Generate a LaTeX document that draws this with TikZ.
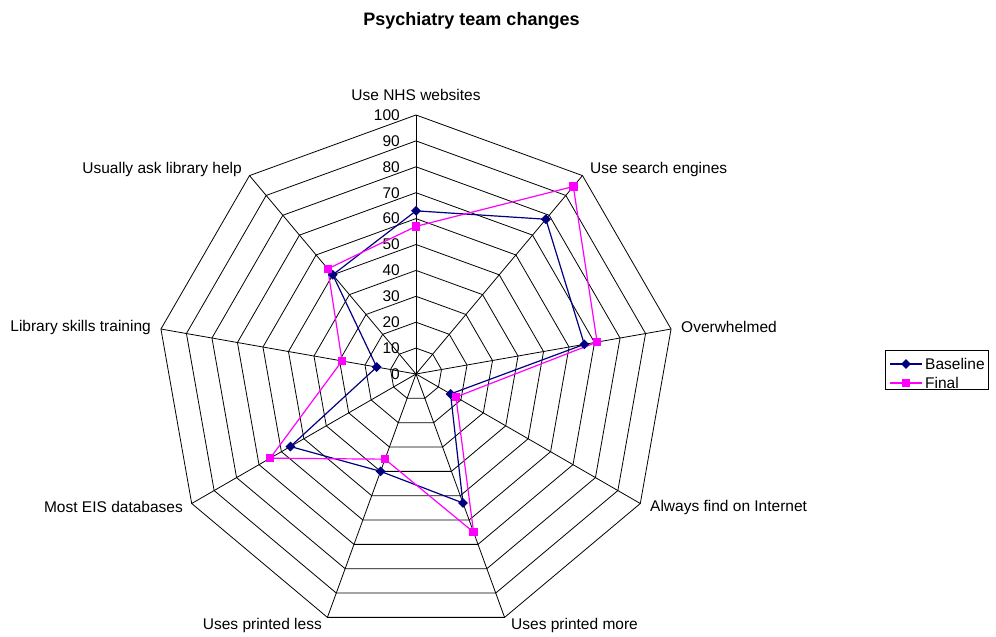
\documentclass[tikz,border=0pt]{standalone}
\usepackage{fontspec}
\setmainfont{Liberation Sans}
\usetikzlibrary{shapes.geometric}
\definecolor{navy}{RGB}{0,0,128}
\definecolor{mag}{RGB}{255,0,255}
\begin{document}
\begin{tikzpicture}[x=1pt,y=1pt,
  every node/.style={font=\fontsize{15.5}{18}\selectfont},
  gridline/.style={black, line width=0.8pt},
  base/.style={navy, line width=1.2pt},
  fin/.style={mag, line width=1.2pt},
  bmark/.style={diamond, fill=navy, inner sep=0pt, minimum size=10pt},
  fmark/.style={rectangle, fill=mag, inner sep=0pt, minimum size=8.5pt},
  axlab/.style={inner sep=0pt},
  ]
\useasboundingbox (0,0) rectangle (996,-637);
\node[font=\fontsize{18}{21}\selectfont\bfseries, anchor=base, inner sep=0pt] (title) at (471.5,-25) {Psychiatry team changes};
\begin{scope}[shift={(416,-374)}]
  \foreach \k in {1,...,10}{
    \draw[gridline] (90:\k*25.9) \foreach \i in {1,...,8}{ -- (90-\i*40:\k*25.9)} -- cycle;
  }
  \foreach \i in {0,...,8}{
    \draw[gridline] (0,0) -- (90-\i*40:259);
  }
  \foreach \v in {0,10,...,100}{
    \node[anchor=east, inner sep=0pt] (t\v) at (-16,\v*2.59) {\v};
  }
  % data
  \foreach \v [count=\i from 0] in {63,78,66,15.4,53,40,56,15.4,50}{
    \coordinate (b\i) at (90-\i*40:\v*2.59);
  }
  \foreach \v [count=\i from 0] in {57,94.5,71,17.8,65,35,65,29,53}{
    \coordinate (f\i) at (90-\i*40:\v*2.59);
  }
  \draw[base] (b0) -- (b1) -- (b2) -- (b3) -- (b4) -- (b5) -- (b6) -- (b7) -- (b8) -- cycle;
  \draw[fin] (f0) -- (f1) -- (f2) -- (f3) -- (f4) -- (f5) -- (f6) -- (f7) -- (f8) -- cycle;
  \foreach \i in {0,...,8}{
    \node[bmark] (bm\i) at (b\i) {};
    \node[fmark] (fm\i) at (f\i) {};
  }
\end{scope}
% axis labels
\node[axlab] (l0) at (416,-95) {Use NHS websites};
\node[axlab, anchor=west] (l1) at (590,-169) {Use search engines};
\node[axlab, anchor=west] (l2) at (681,-327) {Overwhelmed};
\node[axlab, anchor=west] (l3) at (650,-507) {Always find on Internet};
\node[axlab, anchor=west] (l4) at (511,-625) {Uses printed more};
\node[axlab, anchor=east] (l5) at (322,-625) {Uses printed less};
\node[axlab, anchor=east] (l6) at (183,-507) {Most EIS databases};
\node[axlab, anchor=east] (l7) at (151,-327) {Library skills training};
\node[axlab, anchor=east] (l8) at (242,-169) {Usually ask library help};
% legend
\node[draw=black, line width=0.8pt, minimum width=103pt, minimum height=39pt, inner sep=0pt] (leg) at (936.5,-369.5) {};
\coordinate (lb1) at (890,-364);
\coordinate (lb2) at (922,-364);
\coordinate (lf1) at (890,-383);
\coordinate (lf2) at (922,-383);
\draw[base] (lb1) -- (lb2);
\draw[fin] (lf1) -- (lf2);
\node[bmark] (lbm) at (906,-364) {};
\node[fmark] (lfm) at (906,-383) {};
\node[anchor=west, inner sep=0pt] (lbt) at (925,-364) {Baseline};
\node[anchor=west, inner sep=0pt] (lft) at (925,-383) {Final};
\end{tikzpicture}
\end{document}
